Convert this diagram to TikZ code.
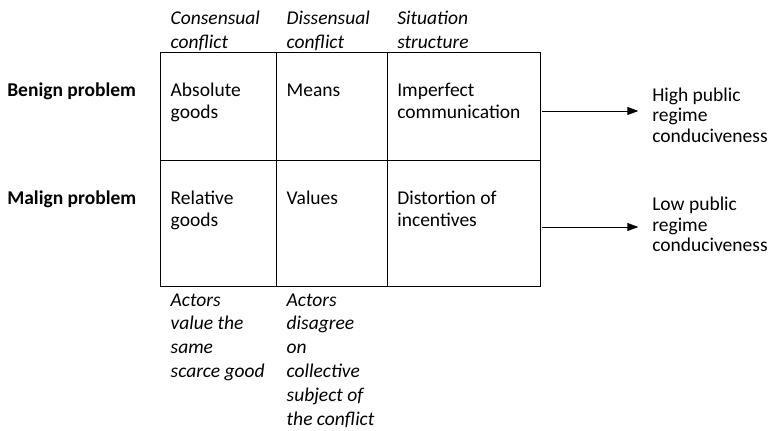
\documentclass[tikz,border=0pt]{standalone}
\usepackage{fontspec}
\setmainfont{Carlito}
\usetikzlibrary{arrows.meta}
\begin{document}
\begin{tikzpicture}[x=1pt,y=-1pt,
  txt/.style={anchor=base west,inner sep=0pt,outer sep=0pt,align=left,font=\fontsize{19.5}{21.6}\selectfont},
  hdr/.style={txt,font=\fontsize{19.5}{23.8}\selectfont\itshape},
  ftr/.style={txt,font=\fontsize{19.5}{23.8}\selectfont\itshape},
  rowlab/.style={txt,font=\fontsize{19.5}{21.6}\selectfont\bfseries},
  outc/.style={txt,font=\fontsize{19.5}{20.5}\selectfont},
  gridline/.style={line width=0.9pt},
  arr/.style={line width=0.9pt,-{Triangle[length=11pt,width=8pt]}}]
\useasboundingbox (0,0) rectangle (769,431);
% grid
\draw[gridline] (160.7,52.5) rectangle (540,286);
\draw[gridline] (160.7,160.3) -- (540,160.3);
\draw[gridline] (276.7,52.5) -- (276.7,286);
\draw[gridline] (387.7,52.5) -- (387.7,286);
% headers (anchor = baseline of last line)
\node[hdr] (h1) at (170.7,48.3) {Consensual\\conflict};
\node[hdr] (h2) at (286.7,48.3) {Dissensual\\conflict};
\node[hdr] (h3) at (397.3,48.3) {Situation\\structure};
% row labels
\node[rowlab] (benign) at (7.3,96.7) {Benign problem};
\node[rowlab] (malign) at (7.3,204.5) {Malign problem};
% cells
\node[txt] (c11) at (170.7,118.3) {Absolute\\goods};
\node[txt] (c12) at (286.7,96.7) {Means};
\node[txt] (c13) at (397.3,118.3) {Imperfect\\communication};
\node[txt] (c21) at (170.7,226.1) {Relative\\goods};
\node[txt] (c22) at (286.7,204.5) {Values};
\node[txt] (c23) at (397.3,226.1) {Distortion of\\incentives};
% footers
\node[ftr] (f1) at (170.7,377.4) {Actors\\value the\\same\\scarce good};
\node[ftr] (f2) at (286.7,425) {Actors\\disagree\\on\\collective\\subject of\\the conflict};
% outcomes
\node[outc] (high) at (652.3,142) {High public\\regime\\conduciveness};
\node[outc] (low) at (652.3,251.7) {Low public\\regime\\conduciveness};
% arrows
\coordinate (a1) at (541.5,111);
\coordinate (a2) at (541.5,227);
\draw[arr] (a1) -- (a1 -| high.west) [shorten >=14pt];
\draw[arr] (a2) -- (a2 -| low.west) [shorten >=14pt];
\end{tikzpicture}
\end{document}
